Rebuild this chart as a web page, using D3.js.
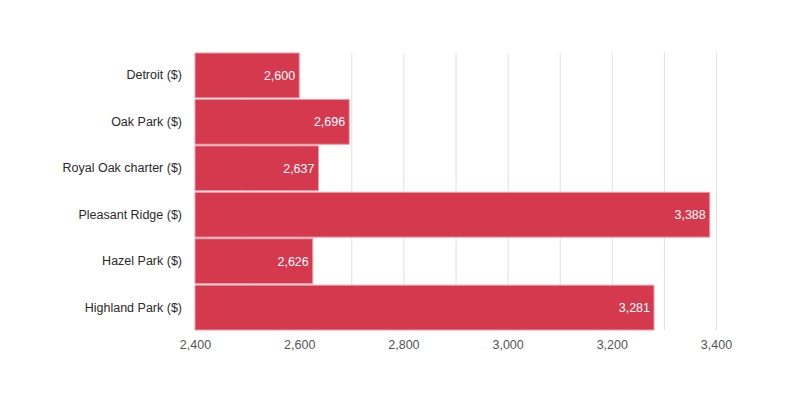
<!DOCTYPE html>
<html>
<head>
<meta charset="utf-8">
<script src="https://cdn.jsdelivr.net/npm/d3@7"></script>
<style>
  body { margin: 0; background: #fff; font-family: "Liberation Sans", Arial, sans-serif; }
</style>
</head>
<body>
<svg id="chart" width="800" height="400"></svg>
<script>
// Data
const CATEGORIES = ['Detroit ($)', 'Oak Park ($)', 'Royal Oak charter ($)', 'Pleasant Ridge ($)', 'Hazel Park ($)', 'Highland Park ($)'];
const VALUES = [2600, 2696, 2637, 3388, 2626, 3281];
const X_TICKS = [2400, 2600, 2800, 3000, 3200, 3400];
const GRID_LINES = [2500, 2600, 2700, 2800, 2900, 3000, 3100, 3200, 3300, 3400];

const MARGIN = { top: 53, right: 84, bottom: 70, left: 195 };
const W = 800, H = 400;
const innerW = W - MARGIN.left - MARGIN.right;
const innerH = H - MARGIN.top - MARGIN.bottom;

const svg = d3.select('#chart');
const g = svg.append('g').attr('transform', `translate(${MARGIN.left},${MARGIN.top})`);

const x = d3.scaleLinear().domain([2400, 3400]).range([0, innerW]);
const y = d3.scaleBand().domain(CATEGORIES).range([0, innerH]).paddingInner(0.035);

// Gitterlinjer
g.selectAll('line.grid')
  .data(GRID_LINES)
  .join('line')
  .attr('class', 'grid')
  .attr('x1', d => x(d) + 0.5).attr('x2', d => x(d) + 0.5)
  .attr('y1', 0).attr('y2', innerH)
  .attr('stroke', '#e0e0e0');

// Staplar
const rows = CATEGORIES.map((c, i) => ({ cat: c, val: VALUES[i] }));

g.selectAll('rect.bar')
  .data(rows)
  .join('rect')
  .attr('class', 'bar')
  .attr('x', x(2400))
  .attr('y', d => y(d.cat))
  .attr('width', d => x(d.val) - x(2400))
  .attr('height', y.bandwidth())
  .attr('fill', '#d5394e')
  .attr('stroke', '#ee9aa5')
  .attr('stroke-width', 1);

// Värdeetiketter
g.selectAll('text.val')
  .data(rows)
  .join('text')
  .attr('class', 'val')
  .attr('x', d => x(d.val) - 4)
  .attr('y', d => y(d.cat) + y.bandwidth() / 2)
  .attr('dy', '0.35em')
  .attr('text-anchor', 'end')
  .style('font-size', '12.5px')
  .style('fill', '#fff')
  .text(d => d3.format(',')(d.val));

// Y-axel
const yAxis = g.append('g').call(d3.axisLeft(y).tickSize(0).tickPadding(13));
yAxis.select('.domain').remove();
yAxis.selectAll('text')
  .style('font-size', '12.5px')
  .style('font-family', '"Liberation Sans", Arial, sans-serif')
  .style('fill', '#2a2a2a');

// X-axel
const xAxis = g.append('g')
  .attr('transform', `translate(0,${innerH})`)
  .call(d3.axisBottom(x).tickValues(X_TICKS).tickSize(0).tickPadding(10).tickFormat(d3.format(',')));
xAxis.select('.domain').remove();
xAxis.selectAll('text')
  .style('font-size', '12.5px')
  .style('font-family', '"Liberation Sans", Arial, sans-serif')
  .style('fill', '#555');
</script>
</body>
</html>
